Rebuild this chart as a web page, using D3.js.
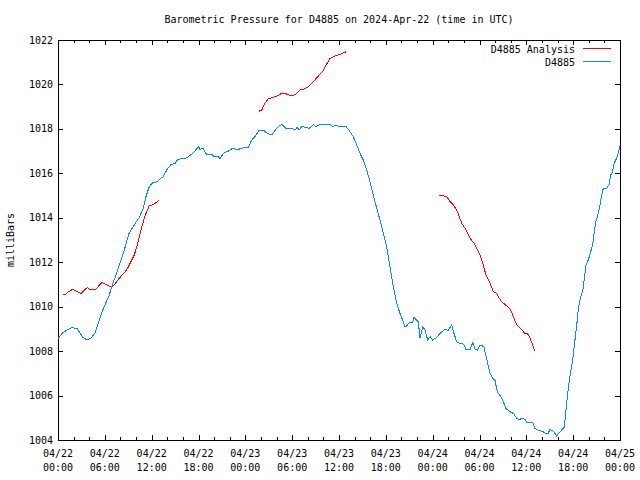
<!DOCTYPE html>
<html>
<head>
<meta charset="utf-8">
<script src="https://cdn.jsdelivr.net/npm/d3@7"></script>
<style>
  html, body { margin: 0; padding: 0; background: #fff; }
  svg { display: block; }
  text { font-family: "DejaVu Sans Mono", "Liberation Mono", monospace; font-size: 10px; fill: #000; }
</style>
</head>
<body>
<script>
// ---- data ----
const titleText = "Barometric Pressure for D4885 on 2024-Apr-22 (time in UTC)";
const yLabel = "milliBars";
const seriesNames = ["D4885 Analysis", "D4885"];
const seriesColors = ["#ff0000", "#0a84ff"];

// hours since 04/22 00:00 UTC
const xTickDates = ["04/22","04/22","04/22","04/22","04/23","04/23","04/23","04/23","04/24","04/24","04/24","04/24","04/25"];
const xTickTimes = ["00:00","06:00","12:00","18:00","00:00","06:00","12:00","18:00","00:00","06:00","12:00","18:00","00:00"];
const yTicks = [1004,1006,1008,1010,1012,1014,1016,1018,1020,1022];

// D4885 observed
const obsHours = [0,0.51,1.02,1.79,2.47,3.24,3.75,4.23,4.78,5.21,5.64,6.06,6.5,6.92,7.43,8.07,8.62,9.06,9.78,10.42,10.93,11.27,11.7,12.13,12.77,12.98,13.49,14.05,14.48,15.03,15.34,16.4,17.26,18.03,18.19,18.61,19.05,19.69,19.9,20.54,20.75,21.18,21.82,22.38,23.1,23.41,24.38,24.82,25.24,25.79,26.3,26.81,27.38,28.1,28.66,29.21,29.94,30.36,30.66,30.88,31.22,31.86,32.19,32.71,33.05,33.57,34.85,35.19,35.7,36.04,36.9,37.32,37.83,38.27,38.69,39.11,39.55,39.97,40.39,40.83,41.25,41.68,42.11,42.53,42.96,43.39,43.81,44.24,44.45,44.67,45.0,45.44,45.61,46.16,46.38,46.72,47.02,47.36,47.66,48.0,48.52,48.94,49.58,50.0,50.44,50.73,51.08,51.41,51.93,52.27,52.79,53.13,53.43,53.72,54.07,54.58,54.71,55.0,55.35,55.69,55.99,56.28,56.72,57.05,57.39,57.91,58.33,58.77,59.1,59.4,59.83,60.05,60.82,61.11,61.53,61.97,62.52,62.81,63.03,63.54,63.89,64.31,64.86,65.08,65.29,65.59,65.94,66.23,66.53,66.66,66.97,67.22,67.43,67.64,67.94,68.25,68.5,68.71,68.92,69.22,69.44,69.66,69.86,70.3,70.59,70.81,71.06,71.24,71.58,71.79,72.0];
const obsPressure = [1008.55,1008.8,1008.92,1009.07,1009.0,1008.6,1008.5,1008.58,1008.83,1009.32,1009.77,1010.12,1010.45,1010.93,1011.43,1012.1,1012.7,1013.27,1013.68,1014.02,1014.43,1014.95,1015.4,1015.58,1015.63,1015.73,1015.85,1016.23,1016.39,1016.45,1016.63,1016.68,1016.9,1017.2,1017.08,1017.13,1016.83,1016.87,1016.78,1016.76,1016.66,1016.9,1017.0,1017.13,1017.05,1017.13,1017.16,1017.5,1017.65,1017.95,1017.95,1017.8,1017.73,1018.07,1018.2,1018.02,1018.02,1017.95,1018.07,1017.95,1018.1,1018.07,1018.02,1018.2,1018.1,1018.2,1018.2,1018.1,1018.17,1018.1,1018.1,1017.92,1017.65,1017.28,1016.9,1016.6,1016.15,1015.63,1015.03,1014.43,1013.9,1013.3,1012.7,1011.8,1010.9,1010.15,1009.7,1009.32,1009.1,1009.13,1009.28,1009.3,1009.52,1009.32,1008.58,1009.1,1008.95,1008.5,1008.65,1008.5,1008.62,1008.8,1008.98,1008.92,1009.2,1008.8,1008.42,1008.35,1008.32,1008.08,1008.08,1008.38,1008.08,1008.05,1008.28,1008.2,1007.97,1007.52,1007.0,1006.78,1006.67,1006.17,1005.95,1005.72,1005.42,1005.27,1005.2,1004.98,1004.9,1004.98,1004.93,1004.78,1004.78,1004.52,1004.45,1004.4,1004.3,1004.3,1004.48,1004.37,1004.18,1004.37,1004.57,1005.35,1006.1,1006.85,1007.6,1008.5,1009.4,1009.93,1010.45,1010.68,1011.28,1011.88,1012.1,1012.48,1012.78,1013.38,1013.83,1014.2,1014.58,1015.03,1015.33,1015.33,1015.48,1015.93,1016.08,1016.45,1016.68,1016.9,1017.23];

// D4885 Analysis (three separate runs)
const anaHours1 = [0.68,1.02,1.37,1.88,2.4,2.95,3.37,3.8,4.01,4.87,5.21,5.64,6.06,6.57,7.01,7.34,7.85,8.49,8.93,9.35,9.78,10.21,10.63,11.06,11.36,11.7,12.13,12.56,12.98];
const anaPressure1 = [1010.56,1010.57,1010.68,1010.78,1010.68,1010.6,1010.75,1010.87,1010.78,1010.78,1010.93,1011.1,1011.01,1010.93,1010.9,1011.05,1011.28,1011.53,1011.73,1012.03,1012.33,1012.85,1013.45,1013.98,1014.27,1014.55,1014.58,1014.68,1014.8];
const anaHours2 = [25.79,26.1,26.52,26.94,27.58,28.1,28.66,29.08,29.5,29.94,30.49,31.0,31.64,32.07,32.71,33.35,33.99,34.42,34.85,35.49,36.13,36.9];
const anaPressure2 = [1018.8,1018.85,1019.15,1019.36,1019.42,1019.48,1019.6,1019.6,1019.53,1019.48,1019.57,1019.75,1019.81,1019.9,1020.12,1020.38,1020.62,1020.92,1021.17,1021.28,1021.35,1021.47];
const anaHours3 = [48.85,49.58,49.88,50.22,50.64,51.08,51.41,51.72,52.14,52.57,52.91,53.3,53.64,54.07,54.41,54.83,55.35,55.77,56.2,56.54,56.85,57.49,58.0,58.33,58.77,59.19,59.83,60.25,60.47,60.82,61.07];
const anaPressure3 = [1015.01,1014.97,1014.92,1014.73,1014.58,1014.35,1014.05,1013.75,1013.53,1013.23,1013.03,1012.85,1012.63,1012.33,1011.95,1011.43,1011.05,1010.68,1010.6,1010.38,1010.22,1010.03,1009.85,1009.55,1009.18,1009.03,1008.8,1008.76,1008.58,1008.28,1008.0];

// ---- layout ----
const W = 640, H = 480;
const L = 58, R = 620, T = 40, B = 440;

const svg = d3.select("body").append("svg").attr("width", W).attr("height", H);

const x = d3.scaleLinear().domain([0, 72]).range([L, R]);
const y = d3.scaleLinear().domain([1004, 1022]).range([B, T]);

const majorX = d3.range(0, 73, 6);
const minorX = d3.range(0, 73, 2).filter(h => h % 6 !== 0);

const axisStyle = g => {
  g.select(".domain").remove();
  g.selectAll("line").attr("stroke", "#000").attr("shape-rendering", "crispEdges");
  g.selectAll("text").remove();
};

// bottom ticks (inward)
svg.append("g").attr("transform", `translate(0,${B})`)
  .call(d3.axisBottom(x).tickValues(majorX).tickSize(-5).tickFormat(""))
  .call(axisStyle);
svg.append("g").attr("transform", `translate(0,${B})`)
  .call(d3.axisBottom(x).tickValues(minorX).tickSize(-3).tickFormat(""))
  .call(axisStyle);
// top ticks (inward)
svg.append("g").attr("transform", `translate(0,${T})`)
  .call(d3.axisTop(x).tickValues(majorX).tickSize(-5).tickFormat(""))
  .call(axisStyle);
svg.append("g").attr("transform", `translate(0,${T})`)
  .call(d3.axisTop(x).tickValues(minorX).tickSize(-3).tickFormat(""))
  .call(axisStyle);
// left & right ticks
svg.append("g").attr("transform", `translate(${L},0)`)
  .call(d3.axisLeft(y).tickValues(yTicks).tickSize(-5).tickFormat(""))
  .call(axisStyle);
svg.append("g").attr("transform", `translate(${R},0)`)
  .call(d3.axisRight(y).tickValues(yTicks).tickSize(-5).tickFormat(""))
  .call(axisStyle);

// border
svg.append("rect")
  .attr("x", L + 0.5).attr("y", T + 0.5)
  .attr("width", R - L).attr("height", B - T)
  .attr("fill", "none").attr("stroke", "#000").attr("stroke-width", 1)
  .attr("shape-rendering", "crispEdges");

// y tick labels
svg.append("g").selectAll("text").data(yTicks).join("text")
  .attr("x", L - 5).attr("y", d => y(d)).attr("dy", "0.35em")
  .attr("text-anchor", "end").text(d => d);

// x tick labels (two lines)
const xl = svg.append("g").selectAll("g").data(majorX).join("g")
  .attr("transform", d => `translate(${x(d)},0)`);
xl.append("text").attr("y", 457).attr("text-anchor", "middle").text((d, i) => xTickDates[i]);
xl.append("text").attr("y", 471).attr("text-anchor", "middle").text((d, i) => xTickTimes[i]);

// title
svg.append("text").attr("x", (L + R) / 2).attr("y", 23).attr("text-anchor", "middle").text(titleText);

// y label
svg.append("text").attr("transform", `translate(14,${(T + B) / 2}) rotate(-90)`)
  .attr("text-anchor", "middle").text(yLabel);

// lines
const line = d3.line().x(d => x(d[0])).y(d => y(d[1]));
const zip = (a, b) => a.map((v, i) => [v, b[i]]);

const plot = svg.append("g");
[[anaHours1, anaPressure1], [anaHours2, anaPressure2], [anaHours3, anaPressure3]].forEach(([h, p]) => {
  plot.append("path").datum(zip(h, p)).attr("d", line)
    .attr("fill", "none").attr("stroke", seriesColors[0]).attr("stroke-width", 1)
    .attr("shape-rendering", "crispEdges");
});
plot.append("path").datum(zip(obsHours, obsPressure)).attr("d", line)
  .attr("fill", "none").attr("stroke", seriesColors[1]).attr("stroke-width", 1)
  .attr("shape-rendering", "crispEdges");

// legend
const leg = svg.append("g");
seriesNames.forEach((name, i) => {
  const ly = 49 + i * 13;
  leg.append("text").attr("x", 575).attr("y", ly).attr("dy", "0.35em").attr("text-anchor", "end").text(name);
  leg.append("line").attr("x1", 583).attr("x2", 611).attr("y1", ly - 0.5).attr("y2", ly - 0.5)
    .attr("stroke", seriesColors[i]).attr("stroke-width", 1).attr("shape-rendering", "crispEdges");
});
</script>
</body>
</html>
